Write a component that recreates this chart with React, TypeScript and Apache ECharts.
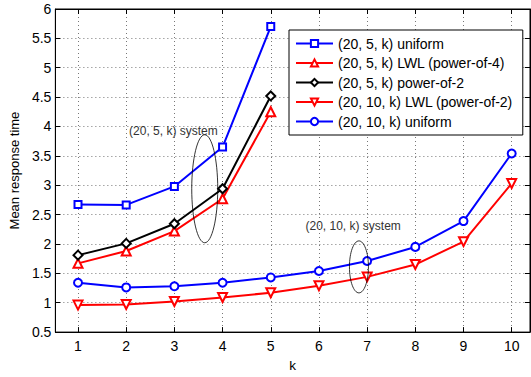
import React, { useEffect, useRef } from "react";
import * as echarts from "echarts";

const kAll = [1, 2, 3, 4, 5, 6, 7, 8, 9, 10];
const k5 = [1, 2, 3, 4, 5];
const uniform5 = [2.67, 2.665, 2.98, 3.65, 5.7];
const lwl4_5 = [1.67, 1.88, 2.22, 2.77, 4.25];
const pow2_5 = [1.81, 2.01, 2.345, 2.94, 4.52];
const lwl2_10 = [0.96, 0.97, 1.02, 1.09, 1.17, 1.29, 1.44, 1.65, 2.04, 3.03];
const uniform10 = [1.34, 1.26, 1.28, 1.34, 1.43, 1.54, 1.71, 1.95, 2.39, 3.54];
const seriesNames = [
  "(20, 5, k) uniform",
  "(20, 5, k) LWL (power-of-4)",
  "(20, 5, k) power-of-2",
  "(20, 10, k) LWL (power-of-2)",
  "(20, 10, k) uniform",
];
const annotationTexts = ["(20, 5, k) system", "(20, 10, k) system"];
const annotationTextAt = [
  [2.98, 3.93],
  [6.71, 2.31],
];
const ellipseAt = [
  [3.63, 2.94],
  [6.83, 1.61],
];

const FONT = "'Liberation Sans', Arial, Helvetica, sans-serif";

function pairs(xs: number[], ys: number[]) {
  return ys.map((y, i) => [xs[i], y]);
}

export default function App() {
  const ref = useRef<HTMLDivElement>(null);
  useEffect(() => {
    document.body.style.margin = "0";
    const chart = echarts.init(ref.current!, null, { renderer: "svg" });
    const mk = (
      name: string,
      data: number[][],
      color: string,
      symbol: string,
      size: number,
      rotate = 0
    ) => ({
      name,
      type: "line",
      data,
      symbol,
      symbolSize: size,
      symbolRotate: rotate,
      showAllSymbol: true,
      lineStyle: { color, width: 2 },
      itemStyle: { color, borderColor: color, borderWidth: 1.6 },
      xAxisIndex: 0,
      yAxisIndex: 0,
      z: 3,
    });
    const gridLine = { show: true, lineStyle: { color: "#777", type: [1, 3], width: 1 } };
    const option: any = {
      animation: false,
      backgroundColor: "#fff",
      grid: {
        left: 52,
        right: 1,
        top: 9,
        bottom: 34,
        show: true,
        borderColor: "#000",
        borderWidth: 1,
        backgroundColor: "transparent",
      },
      legend: {
        orient: "vertical",
        left: 289,
        top: 30,
        padding: [6, 10, 6, 6],
        itemGap: 4.5,
        itemWidth: 37,
        itemHeight: 9,
        backgroundColor: "#fff",
        borderColor: "#000",
        borderWidth: 1,
        data: seriesNames,
        textStyle: { fontFamily: FONT, fontSize: 14, color: "#000", lineHeight: 15 },
        z: 20,
      },
      xAxis: [
        {
          type: "value",
          min: 0.53,
          max: 10.38,
          name: "k",
          nameLocation: "middle",
          nameGap: 21,
          nameTextStyle: { fontFamily: FONT, fontSize: 13.5, color: "#000" },
          axisLine: { show: true, lineStyle: { color: "#000", width: 1 } },
          axisTick: { show: true, inside: true, length: 5, customValues: kAll, lineStyle: { color: "#000" } },
          axisLabel: { customValues: kAll, fontFamily: FONT, fontSize: 14, color: "#000", margin: 7 },
          splitLine: gridLine,
        },
        {
          type: "value",
          position: "top",
          min: 0.53,
          max: 10.38,
          axisLine: { show: true, lineStyle: { color: "#000", width: 1 } },
          axisTick: { show: true, inside: true, length: 5, customValues: kAll, lineStyle: { color: "#000" } },
          axisLabel: { show: false },
          splitLine: { show: false },
        },
      ],
      yAxis: [
        {
          type: "value",
          min: 0.5,
          max: 6,
          interval: 0.5,
          name: "Mean response time",
          nameLocation: "middle",
          nameGap: 29,
          nameTextStyle: { fontFamily: FONT, fontSize: 13, color: "#000" },
          axisLine: { show: true, lineStyle: { color: "#000", width: 1 } },
          axisTick: { show: true, inside: true, length: 5, lineStyle: { color: "#000" } },
          axisLabel: { fontFamily: FONT, fontSize: 14, color: "#000", margin: 4 },
          splitLine: gridLine,
        },
        {
          type: "value",
          position: "right",
          min: 0.5,
          max: 6,
          interval: 0.5,
          axisLine: { show: true, lineStyle: { color: "#000", width: 1 } },
          axisTick: { show: true, inside: true, length: 5, lineStyle: { color: "#000" } },
          axisLabel: { show: false },
          splitLine: { show: false },
        },
      ],
      series: [
        mk(seriesNames[0], pairs(k5, uniform5), "#0000ff", "emptyRect", 7),
        mk(seriesNames[1], pairs(k5, lwl4_5), "#ff0000", "emptyTriangle", 9),
        mk(seriesNames[2], pairs(k5, pow2_5), "#000000", "emptyDiamond", 9),
        mk(seriesNames[3], pairs(kAll, lwl2_10), "#ff0000", "emptyTriangle", 9, 180),
        mk(seriesNames[4], pairs(kAll, uniform10), "#0000ff", "emptyCircle", 8),
      ],
    };
    chart.setOption(option);
    const toPx = (p: number[]) =>
      chart.convertToPixel({ xAxisIndex: 0, yAxisIndex: 0 }, p) as number[];
    const radii = [
      [13, 54],
      [9.5, 26],
    ];
    const graphic: any[] = [];
    annotationTexts.forEach((t, i) => {
      const tp = toPx(annotationTextAt[i]);
      const ep = toPx(ellipseAt[i]);
      graphic.push({
        type: "ellipse",
        shape: { cx: ep[0], cy: ep[1], rx: radii[i][0], ry: radii[i][1] },
        style: { fill: "none", stroke: "#000", lineWidth: 0.8 },
        z: 10,
      });
      graphic.push({
        type: "text",
        x: tp[0],
        y: tp[1],
        style: {
          text: t,
          fill: "#333",
          font: `12px ${FONT}`,
          textAlign: "center",
          textVerticalAlign: "middle",
          align: "center",
          verticalAlign: "middle",
        },
        z: 10,
      });
    });
    chart.setOption({ graphic });
    return () => chart.dispose();
  }, []);
  return <div ref={ref} style={{ width: 531, height: 377 }} />;
}
